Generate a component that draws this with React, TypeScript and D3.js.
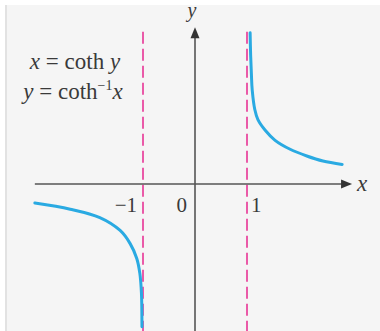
import React from "react";
import * as d3 from "d3";

// points (data units)
const rightX = [1.06, 1.07, 1.085, 1.1, 1.15, 1.21, 1.35, 1.54, 1.83, 2.15, 2.46, 2.83];
const rightY = [2.7, 2.3, 1.95, 1.68, 1.33, 1.15, 0.96, 0.78, 0.62, 0.5, 0.41, 0.35];
const leftX = [-3.08, -2.4, -1.83, -1.44, -1.25, -1.12, -1.06, -1.03, -1.02];
const leftY = [-0.34, -0.45, -0.6, -0.83, -1.06, -1.33, -1.6, -1.95, -2.55];
const asymptotes = [-1, 1];
const tickLabels = [
  { v: -1, text: "\u22121" },
  { v: 0, text: "0" },
  { v: 1, text: "1" },
];

const W = 380;
const H = 331;

export default function App() {
  const x = d3.scaleLinear().domain([0, 1]).range([195, 247]);
  const y = d3.scaleLinear().domain([0, 1]).range([184, 128]);

  const line = d3
    .line<[number, number]>()
    .x((d) => x(d[0]))
    .y((d) => y(d[1]))
    .curve(d3.curveCatmullRom.alpha(0.5));

  const right = line(rightX.map((v, i) => [v, rightY[i]]) as [number, number][]);
  const left = line(leftX.map((v, i) => [v, leftY[i]]) as [number, number][]);

  const axisColor = "#555";
  const textColor = "#3a3a3a";
  const serif = "'Liberation Serif', 'DejaVu Serif', serif";

  const xTip = x(3.02);
  const yTip = y(2.8);

  return (
    <svg
      width={W}
      height={H}
      style={{ position: "fixed", left: 0, top: 0 }}
      fontFamily={serif}
    >
      <rect x={0} y={0} width={W} height={H} fill="#ffffff" />
      <rect x={5} y={5} width={W - 5} height={H - 5} fill="#f5f5f5" />
      <line x1={6} y1={5} x2={6} y2={H} stroke="#e2e2e2" strokeWidth={2} />

      {/* asymptotes */}
      {asymptotes.map((a) => (
        <line
          key={a}
          x1={x(a)}
          x2={x(a)}
          y1={y(2.72)}
          y2={H}
          stroke="#ea5aa8"
          strokeWidth={2}
          strokeDasharray="12,5"
        />
      ))}

      {/* axes */}
      <line x1={x(-3.08)} y1={y(0)} x2={xTip - 8} y2={y(0)} stroke={axisColor} strokeWidth={1.6} />
      <path
        d={`M${xTip},${y(0)} L${xTip - 11},${y(0) - 4.5} L${xTip - 11},${y(0) + 4.5} Z`}
        fill="#333"
      />
      <line x1={x(0)} y1={H} x2={x(0)} y2={yTip + 8} stroke={axisColor} strokeWidth={1.6} />
      <path
        d={`M${x(0)},${yTip} L${x(0) - 4.5},${yTip + 11} L${x(0) + 4.5},${yTip + 11} Z`}
        fill="#333"
      />

      {/* curves */}
      <path d={right ?? ""} fill="none" stroke="#2aaae2" strokeWidth={3} strokeLinecap="round" />
      <path d={left ?? ""} fill="none" stroke="#2aaae2" strokeWidth={3} strokeLinecap="round" />

      {/* tick labels */}
      {tickLabels.map((t) => (
        <text
          key={t.v}
          x={t.v === 1 ? x(t.v) + 4 : t.v === 0 ? x(t.v) - 8 : x(t.v) - 6}
          y={y(0) + 28}
          fontSize={21}
          fill={textColor}
          textAnchor={t.v === 1 ? "start" : "end"}
        >
          {t.text}
        </text>
      ))}

      {/* axis labels */}
      <text x={xTip + 5} y={y(0) + 7} fontSize={23} fontStyle="italic" fill={textColor}>
        x
      </text>
      <text x={x(0) - 3} y={17} fontSize={20} fontStyle="italic" fill={textColor} textAnchor="middle">
        y
      </text>

      {/* equations */}
      <text x={75} y={69} fontSize={23} fill={textColor} textAnchor="middle">
        <tspan fontStyle="italic">x</tspan>
        <tspan> = coth </tspan>
        <tspan fontStyle="italic">y</tspan>
      </text>
      <text x={73} y={99} fontSize={23} fill={textColor} textAnchor="middle">
        <tspan fontStyle="italic">y</tspan>
        <tspan> = coth</tspan>
        <tspan fontSize={14} dy={-9}>{"\u22121"}</tspan>
        <tspan fontStyle="italic" dy={9}>x</tspan>
      </text>
    </svg>
  );
}
